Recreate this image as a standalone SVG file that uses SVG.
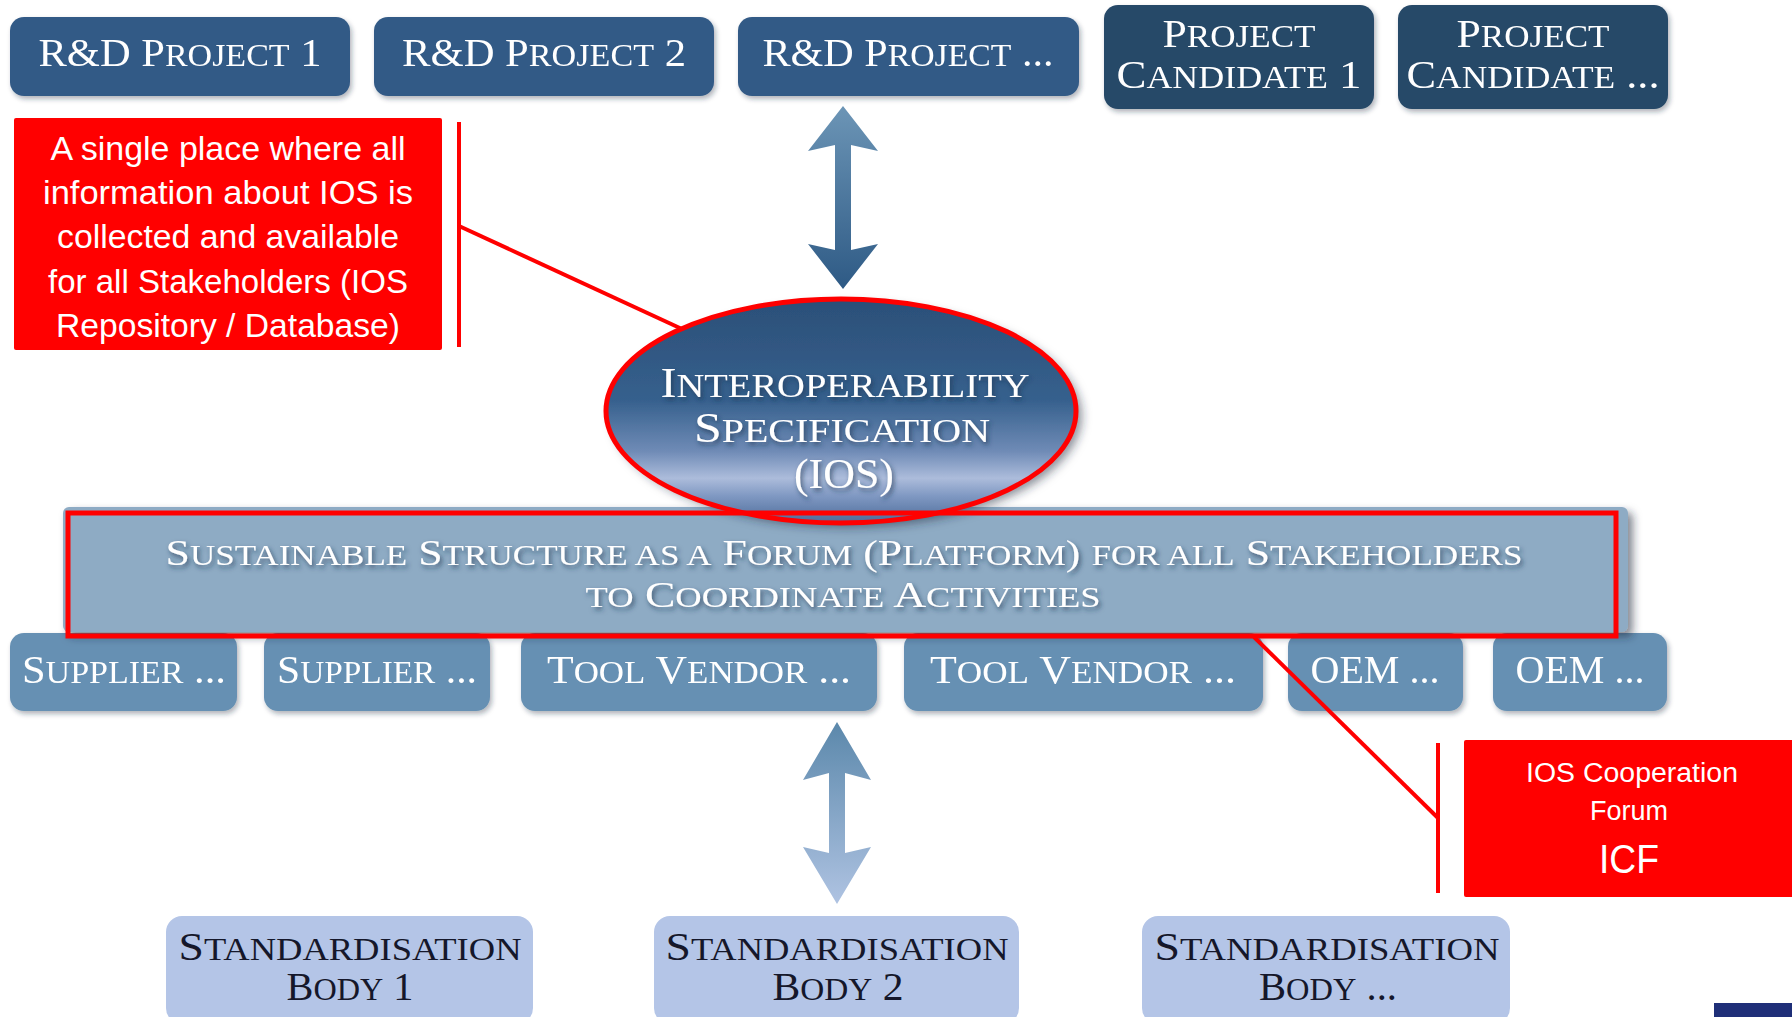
<svg xmlns="http://www.w3.org/2000/svg" width="1792" height="1017" viewBox="0 0 1792 1017">
<style>
.sc{font-family:"Liberation Serif",serif;text-anchor:middle;}
.w{fill:#ffffff;}
.d{fill:#15172a;}
.k{font-size:80%;}
.cal{font-family:"Liberation Sans",Arial,sans-serif;fill:#ffffff;text-anchor:middle;}
.rd{fill:#335a86;}
.cand{fill:#264867;}
.stk{fill:#6690b3;}
.std{fill:#b4c5e7;}
.red{fill:#ff0000;}
.lead{stroke:#ff0000;stroke-width:4;fill:none;}
</style>
<defs>
<filter id="bs" x="-10%" y="-20%" width="125%" height="150%">
<feDropShadow dx="2" dy="3" stdDeviation="2.5" flood-color="#1a2a3a" flood-opacity="0.35"/>
</filter>
<filter id="fs" x="-5%" y="-20%" width="112%" height="150%">
<feDropShadow dx="5" dy="5" stdDeviation="4" flood-color="#1a2a3a" flood-opacity="0.55"/>
</filter>
<filter id="es" x="-10%" y="-15%" width="125%" height="140%">
<feDropShadow dx="6" dy="5" stdDeviation="5" flood-color="#1a2a3a" flood-opacity="0.5"/>
</filter>
<filter id="ts" x="-5%" y="-30%" width="115%" height="180%">
<feDropShadow dx="2" dy="3" stdDeviation="2.5" flood-color="#1e3550" flood-opacity="0.7"/>
</filter>
<linearGradient id="eg" x1="0" y1="0" x2="0" y2="1">
<stop offset="0" stop-color="#2b4f78"/>
<stop offset="0.45" stop-color="#36608d"/>
<stop offset="0.68" stop-color="#6f8bb6"/>
<stop offset="0.8" stop-color="#acbcdb"/>
<stop offset="0.88" stop-color="#7f98c2"/>
<stop offset="1" stop-color="#4d6c9a"/>
</linearGradient>
<linearGradient id="ag1" x1="0" y1="0" x2="0" y2="1">
<stop offset="0" stop-color="#6c95b6"/>
<stop offset="1" stop-color="#2e5a85"/>
</linearGradient>
<linearGradient id="ag2" x1="0" y1="0" x2="0" y2="1">
<stop offset="0" stop-color="#5b88ab"/>
<stop offset="1" stop-color="#afc3e2"/>
</linearGradient>
</defs>
<rect width="1792" height="1017" fill="#ffffff"/>

<g id="rd1" filter="url(#bs)"><rect class="rd" x="10" y="17" width="340" height="79" rx="14"/><text class="sc w" x="180" y="66" font-size="40" textLength="283" lengthAdjust="spacingAndGlyphs">R&amp;D P<tspan class="k">ROJECT</tspan> 1</text></g>
<g id="rd2" filter="url(#bs)"><rect class="rd" x="374" y="17" width="340" height="79" rx="14"/><text class="sc w" x="544" y="66" font-size="40" textLength="284" lengthAdjust="spacingAndGlyphs">R&amp;D P<tspan class="k">ROJECT</tspan> 2</text></g>
<g id="rd3" filter="url(#bs)"><rect class="rd" x="738" y="17" width="341" height="79" rx="14"/><text class="sc w" x="908" y="66" font-size="40" textLength="291" lengthAdjust="spacingAndGlyphs">R&amp;D P<tspan class="k">ROJECT</tspan> ...</text></g>
<g id="cand1" filter="url(#bs)"><rect class="cand" x="1104" y="5" width="270" height="104" rx="14"/><text class="sc w" x="1239" y="47" font-size="40" textLength="153" lengthAdjust="spacingAndGlyphs">P<tspan class="k">ROJECT</tspan></text><text class="sc w" x="1239" y="88" font-size="40" textLength="245" lengthAdjust="spacingAndGlyphs">C<tspan class="k">ANDIDATE</tspan> 1</text></g>
<g id="cand2" filter="url(#bs)"><rect class="cand" x="1398" y="5" width="270" height="104" rx="14"/><text class="sc w" x="1533" y="47" font-size="40" textLength="153" lengthAdjust="spacingAndGlyphs">P<tspan class="k">ROJECT</tspan></text><text class="sc w" x="1533" y="88" font-size="40" textLength="253" lengthAdjust="spacingAndGlyphs">C<tspan class="k">ANDIDATE</tspan> ...</text></g>

<g id="stk1" filter="url(#bs)"><rect class="stk" x="10" y="633" width="227" height="78" rx="14"/><text class="sc w" x="124" y="683" font-size="40" textLength="204" lengthAdjust="spacingAndGlyphs">S<tspan class="k">UPPLIER</tspan> ...</text></g>
<g id="stk2" filter="url(#bs)"><rect class="stk" x="264" y="633" width="226" height="78" rx="14"/><text class="sc w" x="377" y="683" font-size="40" textLength="200" lengthAdjust="spacingAndGlyphs">S<tspan class="k">UPPLIER</tspan> ...</text></g>
<g id="stk3" filter="url(#bs)"><rect class="stk" x="521" y="633" width="356" height="78" rx="14"/><text class="sc w" x="699" y="683" font-size="40" textLength="304" lengthAdjust="spacingAndGlyphs">T<tspan class="k">OOL</tspan> V<tspan class="k">ENDOR</tspan> ...</text></g>
<g id="stk4" filter="url(#bs)"><rect class="stk" x="904" y="633" width="359" height="78" rx="14"/><text class="sc w" x="1083" y="683" font-size="40" textLength="306" lengthAdjust="spacingAndGlyphs">T<tspan class="k">OOL</tspan> V<tspan class="k">ENDOR</tspan> ...</text></g>
<g id="stk5" filter="url(#bs)"><rect class="stk" x="1288" y="633" width="175" height="78" rx="14"/><text class="sc w" x="1375" y="683" font-size="40" textLength="129" lengthAdjust="spacingAndGlyphs">OEM ...</text></g>
<g id="stk6" filter="url(#bs)"><rect class="stk" x="1493" y="633" width="174" height="78" rx="14"/><text class="sc w" x="1580" y="683" font-size="40" textLength="129" lengthAdjust="spacingAndGlyphs">OEM ...</text></g>

<g id="forum">
<rect x="63" y="507" width="1565" height="125" rx="6" fill="#8eabc4" filter="url(#fs)"/>
<g filter="url(#ts)">
<text class="sc w" x="844" y="565" font-size="36" textLength="1357" lengthAdjust="spacingAndGlyphs">S<tspan class="k">USTAINABLE</tspan> S<tspan class="k">TRUCTURE AS A</tspan> F<tspan class="k">ORUM</tspan> (P<tspan class="k">LATFORM</tspan>) <tspan class="k">FOR ALL</tspan> S<tspan class="k">TAKEHOLDERS</tspan></text>
<text class="sc w" x="843" y="607" font-size="36" textLength="515" lengthAdjust="spacingAndGlyphs"><tspan class="k">TO</tspan> C<tspan class="k">OORDINATE</tspan> A<tspan class="k">CTIVITIES</tspan></text>
</g>
</g>

<g id="ios">
<ellipse cx="841" cy="411" rx="235" ry="112" fill="url(#eg)" filter="url(#es)"/>
<ellipse cx="841" cy="411" rx="235" ry="112" fill="none" stroke="#ff0000" stroke-width="5"/>
<g filter="url(#ts)">
<text class="sc w" x="845" y="397" font-size="42" textLength="369" lengthAdjust="spacingAndGlyphs">I<tspan class="k">NTEROPERABILITY</tspan></text>
<text class="sc w" x="842" y="442" font-size="42" textLength="296" lengthAdjust="spacingAndGlyphs">S<tspan class="k">PECIFICATION</tspan></text>
<text class="sc w" x="844" y="488" font-size="42" textLength="100" lengthAdjust="spacingAndGlyphs">(IOS)</text>
</g>
</g>

<g id="forum-highlight"><rect x="68" y="513" width="1548" height="123" fill="none" stroke="#ff0000" stroke-width="5"/></g>

<g id="std1"><rect class="std" x="166" y="916" width="367" height="108" rx="16"/><text class="sc d" x="350" y="960" font-size="40" textLength="343" lengthAdjust="spacingAndGlyphs">S<tspan class="k">TANDARDISATION</tspan></text><text class="sc d" x="350" y="1000" font-size="40" textLength="127" lengthAdjust="spacingAndGlyphs">B<tspan class="k">ODY</tspan> 1</text></g>
<g id="std2"><rect class="std" x="654" y="916" width="365" height="108" rx="16"/><text class="sc d" x="837" y="960" font-size="40" textLength="343" lengthAdjust="spacingAndGlyphs">S<tspan class="k">TANDARDISATION</tspan></text><text class="sc d" x="838" y="1000" font-size="40" textLength="131" lengthAdjust="spacingAndGlyphs">B<tspan class="k">ODY</tspan> 2</text></g>
<g id="std3"><rect class="std" x="1142" y="916" width="368" height="108" rx="16"/><text class="sc d" x="1327" y="960" font-size="40" textLength="345" lengthAdjust="spacingAndGlyphs">S<tspan class="k">TANDARDISATION</tspan></text><text class="sc d" x="1328" y="1000" font-size="40" textLength="138" lengthAdjust="spacingAndGlyphs">B<tspan class="k">ODY</tspan> ...</text></g>

<g id="callout-repo">
<rect class="red" x="14" y="118" width="428" height="232" rx="2"/>
<text class="cal" x="228" y="160" font-size="33" textLength="355" lengthAdjust="spacingAndGlyphs">A single place where all</text>
<text class="cal" x="228" y="204" font-size="33" textLength="370" lengthAdjust="spacingAndGlyphs">information about IOS is</text>
<text class="cal" x="228" y="248" font-size="33" textLength="342" lengthAdjust="spacingAndGlyphs">collected and available</text>
<text class="cal" x="228" y="293" font-size="33" textLength="360" lengthAdjust="spacingAndGlyphs">for all Stakeholders (IOS</text>
<text class="cal" x="228" y="337" font-size="33" textLength="344" lengthAdjust="spacingAndGlyphs">Repository / Database)</text>
</g>

<g id="callout-icf">
<rect class="red" x="1464" y="740" width="340" height="157" rx="2"/>
<text class="cal" x="1632" y="782" font-size="27" textLength="212" lengthAdjust="spacingAndGlyphs">IOS Cooperation</text>
<text class="cal" x="1629" y="820" font-size="27">Forum</text>
<text class="cal" x="1629" y="873" font-size="41" textLength="60" lengthAdjust="spacingAndGlyphs">ICF</text>
</g>

<g id="logo"><rect x="1714" y="1003" width="78" height="14" fill="#1f2f78"/></g>

<g id="connectors">
<path d="M843,106 L878,151 L851,145 L851,250 L878,244 L843,289 L808,244 L835,250 L835,145 L808,151 Z" fill="url(#ag1)"/>
<path d="M837,722 L871,780 L845,773 L845,853 L871,847 L837,904 L803,847 L829,853 L829,773 L803,780 Z" fill="url(#ag2)"/>
<line class="lead" x1="459" y1="122" x2="459" y2="347"/>
<line class="lead" x1="459" y1="226" x2="682" y2="329"/>
<line class="lead" x1="1438" y1="743" x2="1438" y2="893"/>
<line class="lead" x1="1254" y1="637" x2="1438" y2="818"/>
</g>
</svg>
